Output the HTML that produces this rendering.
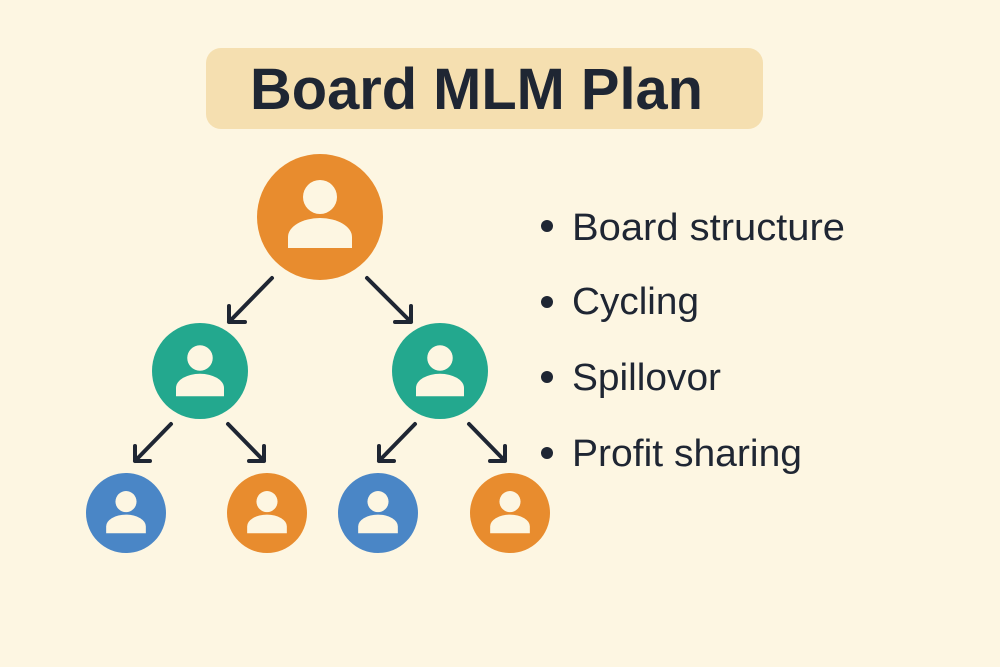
<!DOCTYPE html>
<html><head><meta charset="utf-8"><style>
html,body{margin:0;padding:0;background:#fdf6e2;}
svg{display:block}
</style></head><body>
<svg width="1000" height="667" viewBox="0 0 1000 667" xmlns="http://www.w3.org/2000/svg">
<rect width="1000" height="667" fill="#fdf6e2"/>
<rect x="206" y="48" width="557" height="81" rx="15" fill="#f5dfb0"/>
<text x="250" y="109" font-family="Liberation Sans, sans-serif" font-weight="bold" font-size="58" fill="#1f2633" textLength="453" lengthAdjust="spacingAndGlyphs">Board MLM Plan</text>

<defs>
<g id="p">
<circle cx="0" cy="-20" r="17" fill="#fdf6e2"/>
<path d="M-32 31 V20 A32 19 0 0 1 32 20 V31 Z" fill="#fdf6e2"/>
</g>
</defs>

<circle cx="320" cy="217" r="63" fill="#e88c2e"/>
<g transform="translate(320,217)"><use href="#p"/></g>

<circle cx="200" cy="371" r="48" fill="#23a88e"/>
<g transform="translate(200,373) scale(0.75)"><use href="#p"/></g>
<circle cx="440" cy="371" r="48" fill="#23a88e"/>
<g transform="translate(440,373) scale(0.75)"><use href="#p"/></g>

<circle cx="126" cy="513" r="40" fill="#4a86c6"/>
<g transform="translate(126,514) scale(0.62)"><use href="#p"/></g>
<circle cx="267" cy="513" r="40" fill="#e88c2e"/>
<g transform="translate(267,514) scale(0.62)"><use href="#p"/></g>
<circle cx="378" cy="513" r="40" fill="#4a86c6"/>
<g transform="translate(378,514) scale(0.62)"><use href="#p"/></g>
<circle cx="510" cy="513" r="40" fill="#e88c2e"/>
<g transform="translate(510,514) scale(0.62)"><use href="#p"/></g>

<g stroke="#1f2633" stroke-width="4" fill="none" stroke-linecap="round" stroke-linejoin="round">
<path d="M272 278 L229 322 M229 306 L229 322 L245 322"/>
<path d="M367 278 L411 322 M411 306 L411 322 L395 322"/>
<path d="M171 424 L135 461 M135 446 L135 461 L150 461"/>
<path d="M228 424 L264 461 M264 446 L264 461 L249 461"/>
<path d="M415 424 L379 461 M379 446 L379 461 L394 461"/>
<path d="M469 424 L505 461 M505 446 L505 461 L490 461"/>
</g>

<g fill="#1f2633">
<circle cx="547" cy="226" r="6"/>
<circle cx="547" cy="302" r="6"/>
<circle cx="547" cy="377" r="6"/>
<circle cx="547" cy="453" r="6"/>
</g>
<g font-family="Liberation Sans, sans-serif" font-size="38" fill="#1f2633">
<text x="572" y="240" textLength="273" lengthAdjust="spacingAndGlyphs">Board structure</text>
<text x="572" y="314" textLength="127" lengthAdjust="spacingAndGlyphs">Cycling</text>
<text x="572" y="390" textLength="149" lengthAdjust="spacingAndGlyphs">Spillovor</text>
<text x="572" y="466" textLength="230" lengthAdjust="spacingAndGlyphs">Profit sharing</text>
</g>
</svg>
</body></html>
